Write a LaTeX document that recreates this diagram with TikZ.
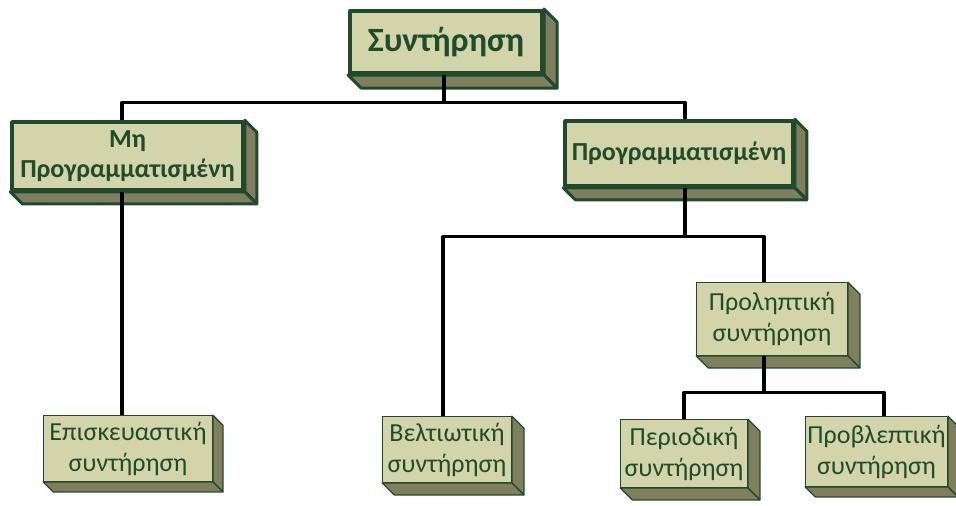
\documentclass[tikz,border=0pt]{standalone}
\usepackage{fontspec}
\setmainfont{Carlito}
\usetikzlibrary{backgrounds}
\definecolor{boxfill}{HTML}{D4D4AA}
\definecolor{boxline}{HTML}{1F4A2C}
\definecolor{boxside}{HTML}{7F7F5E}
\definecolor{boxtext}{HTML}{1E4D2B}
\tikzset{
  box/.style={draw=boxline, fill=boxfill, text=boxtext, inner sep=0pt, align=center},
  bigbox/.style={box, line width=4pt, font=\bfseries\fontsize{34}{38}\selectfont},
  midbox/.style={box, line width=3.5pt, font=\bfseries\fontsize{26}{30}\selectfont},
  lowbox/.style={box, line width=1.3pt, font=\fontsize{26}{31}\selectfont},
  conn/.style={line width=3.2pt, black},
  side/.style={draw=boxline, fill=boxside, line join=round}
}
\begin{document}
\begin{tikzpicture}[x=1pt, y=-1pt, line join=round]
  \useasboundingbox (0,0) rectangle (956,506);
  % κουτιά
  \node[bigbox, minimum width=192, minimum height=62] (sys) at (446,42) {Συντήρηση};
  \node[midbox, minimum width=231, minimum height=68] (mh) at (127.5,156) {Μη\\Προγραμματισμένη};
  \node[midbox, minimum width=228, minimum height=65] (pr) at (679,153.5) {Προγραμματισμένη};
  \node[lowbox, minimum width=150.5, minimum height=72.5] (prol) at (772,319) {Προληπτική\\συντήρηση};
  \node[lowbox, minimum width=168.5, minimum height=65.5] (epi) at (128,448.5) {Επισκευαστική\\συντήρηση};
  \node[lowbox, minimum width=128.5, minimum height=65.5] (bel) at (447,449.5) {Βελτιωτική\\συντήρηση};
  \node[lowbox, minimum width=126.5, minimum height=67.5] (per) at (684,453.5) {Περιοδική\\συντήρηση};
  \node[lowbox, minimum width=141.5, minimum height=69.5] (prob) at (876.5,451.5) {Προβλεπτική\\συντήρηση};
  % ανάγλυφο
  \begin{scope}[on background layer]
    \foreach \n/\d/\w in {sys/13/3, mh/12/3, pr/12/3, prol/12/1.2, epi/10/1.2, bel/12/1.2, per/12/1.2, prob/10/1.2}{
      \draw[side, line width=\w pt] (\n.north east) -- ++(\d,\d) -- ([shift={(\d,\d)}]\n.south east) -- (\n.south east) -- cycle;
      \draw[side, line width=\w pt] (\n.south west) -- ++(\d,\d) -- ([shift={(\d,\d)}]\n.south east) -- (\n.south east) -- cycle;
    }
  \end{scope}
  % γραμμές
  \draw[conn] ([xshift=-2]sys.south) -- ++(0,29);
  \draw[conn] ([xshift=-5.5]mh.north) -- ++(0,-18) -| ([xshift=6]pr.north);
  \draw[conn] ([xshift=-5.5]mh.south) -- ([xshift=-6]epi.north);
  \draw[conn] ([xshift=6]pr.south) -- ++(0,49) coordinate (jpr);
  \draw[conn] ([xshift=-4]bel.north) |- (jpr) -| ([xshift=-8]prol.north);
  \draw[conn] ([xshift=-8]prol.south) -- ++(0,36);
  \draw[conn] (per.north) -- ++(0,-27) -| ([xshift=7.5]prob.north);
\end{tikzpicture}
\end{document}
